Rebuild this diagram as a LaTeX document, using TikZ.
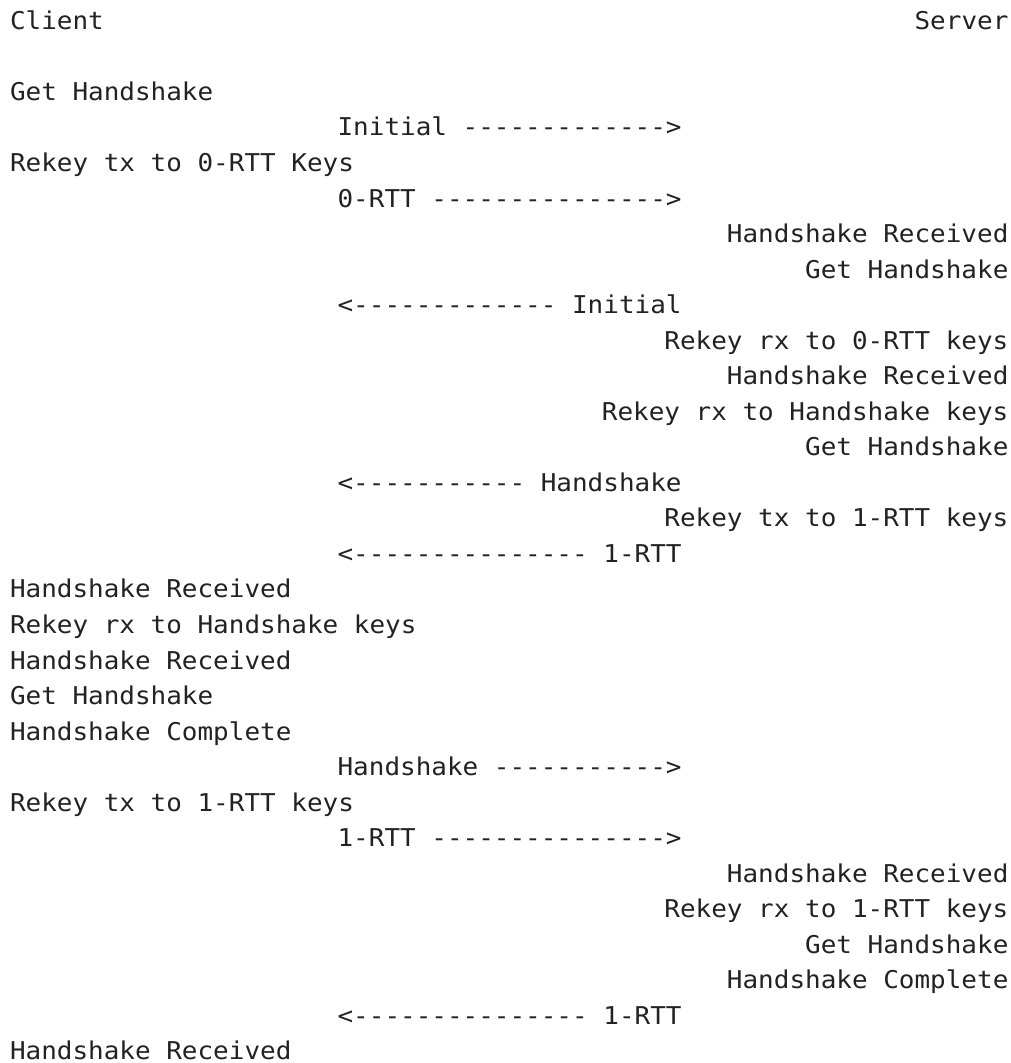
\documentclass[tikz,border=0pt]{standalone}
\usepackage{fontspec}
\newfontfamily\diagmono[FakeStretch=1.06]{DejaVu Sans Mono}
\definecolor{ink}{HTML}{222222}
\begin{document}
\begin{tikzpicture}[x=1pt,y=-1pt,
  txt/.style={inner sep=0pt, outer sep=0pt, text=ink, font=\diagmono\fontsize{24.5}{28}\selectfont},
  lft/.style={txt, anchor=base west},
  rgt/.style={txt, anchor=base east},
  msg/.style={txt, anchor=base west}]
\useasboundingbox (0,0) rectangle (1011,1063);
\def\L{10}
\def\R{1008.4}
\def\M{337.6}
\def\y#1{{29.3+35.54*#1}}
\node[lft] (client) at (\L,\y{0}) {Client};
\node[rgt] (server) at (\R,\y{0}) {Server};
\node[lft] (c2) at (\L,\y{2}) {Get Handshake};
\node[msg] (m3) at (\M,\y{3}) {Initial ------------->};
\node[lft] (c4) at (\L,\y{4}) {Rekey tx to 0-RTT Keys};
\node[msg] (m5) at (\M,\y{5}) {0-RTT --------------->};
\node[rgt] (s6) at (\R,\y{6}) {Handshake Received};
\node[rgt] (s7) at (\R,\y{7}) {Get Handshake};
\node[msg] (m8) at (\M,\y{8}) {<------------- Initial};
\node[rgt] (s9) at (\R,\y{9}) {Rekey rx to 0-RTT keys};
\node[rgt] (s10) at (\R,\y{10}) {Handshake Received};
\node[rgt] (s11) at (\R,\y{11}) {Rekey rx to Handshake keys};
\node[rgt] (s12) at (\R,\y{12}) {Get Handshake};
\node[msg] (m13) at (\M,\y{13}) {<----------- Handshake};
\node[rgt] (s14) at (\R,\y{14}) {Rekey tx to 1-RTT keys};
\node[msg] (m15) at (\M,\y{15}) {<--------------- 1-RTT};
\node[lft] (c16) at (\L,\y{16}) {Handshake Received};
\node[lft] (c17) at (\L,\y{17}) {Rekey rx to Handshake keys};
\node[lft] (c18) at (\L,\y{18}) {Handshake Received};
\node[lft] (c19) at (\L,\y{19}) {Get Handshake};
\node[lft] (c20) at (\L,\y{20}) {Handshake Complete};
\node[msg] (m21) at (\M,\y{21}) {Handshake ----------->};
\node[lft] (c22) at (\L,\y{22}) {Rekey tx to 1-RTT keys};
\node[msg] (m23) at (\M,\y{23}) {1-RTT --------------->};
\node[rgt] (s24) at (\R,\y{24}) {Handshake Received};
\node[rgt] (s25) at (\R,\y{25}) {Rekey rx to 1-RTT keys};
\node[rgt] (s26) at (\R,\y{26}) {Get Handshake};
\node[rgt] (s27) at (\R,\y{27}) {Handshake Complete};
\node[msg] (m28) at (\M,\y{28}) {<--------------- 1-RTT};
\node[lft] (c29) at (\L,\y{29}) {Handshake Received};
\end{tikzpicture}
\end{document}
